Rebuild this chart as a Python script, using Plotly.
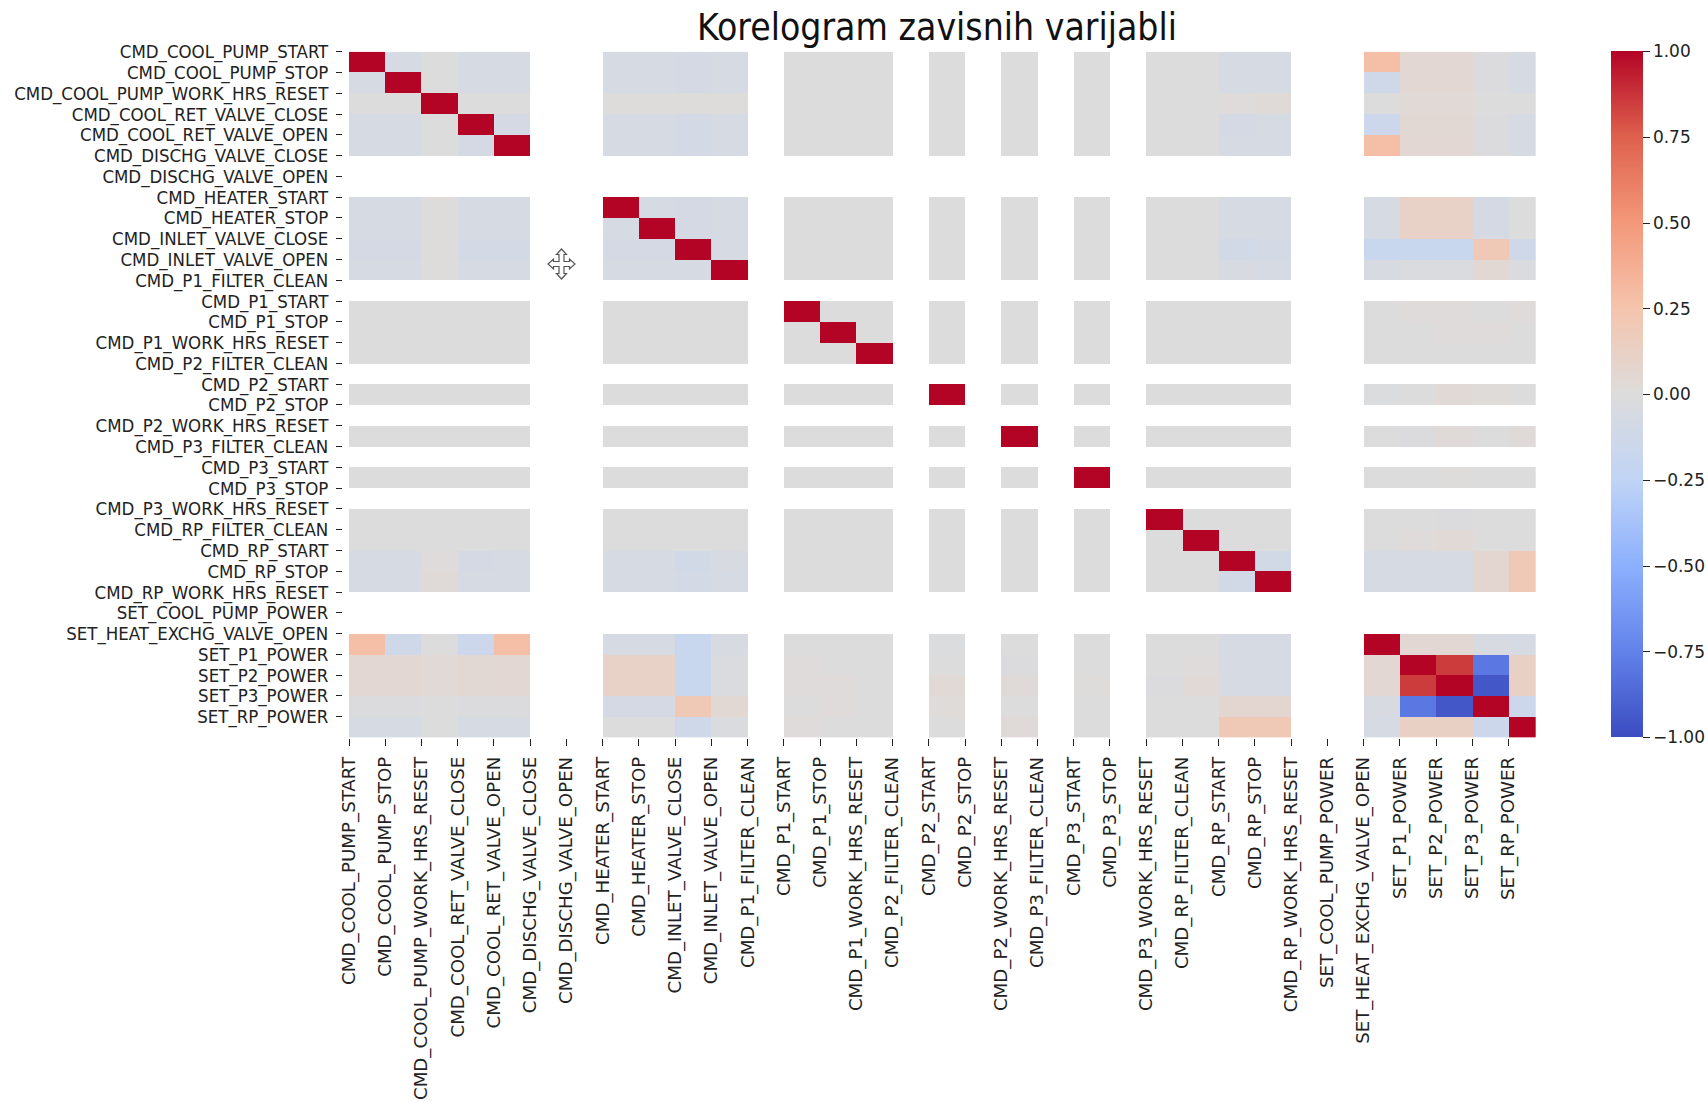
import plotly.graph_objects as go

variables = [
    "CMD_COOL_PUMP_START", "CMD_COOL_PUMP_STOP", "CMD_COOL_PUMP_WORK_HRS_RESET",
    "CMD_COOL_RET_VALVE_CLOSE", "CMD_COOL_RET_VALVE_OPEN", "CMD_DISCHG_VALVE_CLOSE",
    "CMD_DISCHG_VALVE_OPEN", "CMD_HEATER_START", "CMD_HEATER_STOP",
    "CMD_INLET_VALVE_CLOSE", "CMD_INLET_VALVE_OPEN", "CMD_P1_FILTER_CLEAN",
    "CMD_P1_START", "CMD_P1_STOP", "CMD_P1_WORK_HRS_RESET", "CMD_P2_FILTER_CLEAN",
    "CMD_P2_START", "CMD_P2_STOP", "CMD_P2_WORK_HRS_RESET", "CMD_P3_FILTER_CLEAN",
    "CMD_P3_START", "CMD_P3_STOP", "CMD_P3_WORK_HRS_RESET", "CMD_RP_FILTER_CLEAN",
    "CMD_RP_START", "CMD_RP_STOP", "CMD_RP_WORK_HRS_RESET", "SET_COOL_PUMP_POWER",
    "SET_HEAT_EXCHG_VALVE_OPEN", "SET_P1_POWER", "SET_P2_POWER", "SET_P3_POWER",
    "SET_RP_POWER",
]

# Positions (rows and columns) that hold a value; every other cell is empty.
filled = [0, 1, 2, 3, 4, 7, 8, 9, 10, 12, 13, 14, 16, 18, 20, 22, 23, 24, 25, 28, 29, 30, 31, 32]

_ = 0.0
r00 = [1, -.07, -.005, -.07, -.07, -.06, -.06, -.08, -.06, _, _, _, _, _, _, _, _, -.07, -.06, .28, .05, .05, -.02, -.06]
r01 = [-.07, 1, -.005, -.07, -.07, -.06, -.06, -.08, -.06, _, _, _, _, _, _, _, _, -.07, -.06, -.13, .05, .05, -.02, -.06]
r02 = [-.005, -.005, 1, -.005, -.005, .003, .003, .003, .003, _, _, _, _, _, _, _, _, .01, .02, _, .03, .03, _, _]
r03 = [-.07, -.07, -.005, 1, -.08, -.07, -.07, -.09, -.07, _, _, _, _, _, _, _, -.005, -.08, -.07, -.15, .04, .04, -.02, -.06]
r04 = [-.07, -.07, -.005, -.08, 1, -.07, -.07, -.09, -.07, _, _, _, _, _, _, _, -.005, -.07, -.06, .28, .05, .05, -.02, -.06]
r07 = [-.06, -.06, .003, -.07, -.07, 1, -.07, -.08, -.06, _, _, _, _, _, _, _, _, -.07, -.06, -.07, .11, .11, -.08, -.01]
r08 = [-.06, -.06, .003, -.07, -.07, -.07, 1, -.08, -.06, _, _, _, _, _, _, _, _, -.07, -.06, -.07, .11, .11, -.08, -.01]
r09 = [-.08, -.08, .003, -.09, -.09, -.08, -.08, 1, -.07, _, _, _, _, _, _, _, _, -.10, -.09, -.18, -.18, -.18, .20, -.13]
r10 = [-.06, -.06, .003, -.07, -.07, -.06, -.06, -.07, 1, _, _, _, _, _, _, _, _, -.05, -.06, -.05, -.03, -.03, .04, -.03]
r12 = [_, _, _, _, _, _, _, _, _, 1, _, _, _, _, _, _, _, _, _, -.01, .01, .01, -.01, .01]
r13 = [_, _, _, _, _, _, _, _, _, _, 1, _, _, _, _, _, _, _, _, -.01, -.005, .01, .01, -.005]
r14 = [_, _, _, _, _, _, _, _, _, _, _, 1, _, _, _, _, _, _, _, -.01, -.01, -.01, -.005, -.01]
r16 = [_, _, _, _, _, _, _, _, _, _, _, _, 1, _, _, _, _, _, _, -.015, -.01, .03, .015, -.01]
r18 = [_, _, _, _, _, _, _, _, _, _, _, _, _, 1, _, _, _, _, _, -.01, -.02, .02, -.01, .02]
r20 = [_, _, _, _, _, _, _, _, _, _, _, _, _, _, 1, _, _, .002, .002, _, _, .005, _, _]
r22 = [_, _, _, _, _, _, _, _, _, _, _, _, _, _, _, 1, _, _, _, -.01, -.01, -.02, _, _]
r23 = [_, _, _, -.005, -.005, _, _, _, _, _, _, _, _, _, _, _, 1, _, _, _, .01, .03, _, -.005]
r24 = [-.07, -.07, .01, -.08, -.07, -.07, -.07, -.10, -.05, _, _, _, _, _, .002, _, _, 1, -.10, -.07, -.07, -.07, .06, .20]
r25 = [-.06, -.06, .02, -.07, -.06, -.06, -.06, -.09, -.06, _, _, _, _, _, .002, _, _, -.10, 1, -.07, -.07, -.07, .06, .20]
r28 = [.28, -.13, _, -.15, .28, -.07, -.07, -.18, -.05, -.01, -.01, -.01, -.015, -.01, _, -.01, _, -.07, -.07, 1, .05, .05, -.05, -.06]
r29 = [.05, .05, .03, .04, .05, .11, .11, -.18, -.03, .01, -.005, -.01, -.01, -.02, _, -.01, .01, -.07, -.07, .05, 1, .85, -.80, .12]
r30 = [.05, .05, .03, .04, .05, .11, .11, -.18, -.03, .01, .01, -.01, .03, .02, .005, -.02, .03, -.07, -.07, .05, .85, 1, -.95, .12]
r31 = [-.02, -.02, _, -.02, -.02, -.08, -.08, .20, .04, -.01, .01, -.005, .015, -.01, _, _, _, .06, .06, -.05, -.80, -.95, 1, -.15]
r32 = [-.06, -.06, _, -.06, -.06, -.01, -.01, -.13, -.03, .01, -.005, -.01, -.01, .02, _, _, -.005, .20, .20, -.06, .12, .12, -.15, 1]

filled_rows = [r00, r01, r02, r03, r04, r07, r08, r09, r10, r12, r13, r14, r16, r18,
               r20, r22, r23, r24, r25, r28, r29, r30, r31, r32]

colorbar_ticks = [-1, -0.75, -0.5, -0.25, 0, 0.25, 0.5, 0.75, 1]

coolwarm = [
    [0.0, "#3b4cc0"], [0.125, "#6282ea"], [0.25, "#8db0fe"], [0.375, "#c0d4f5"],
    [0.5, "#dddcdc"], [0.625, "#f5c4ad"], [0.75, "#f4987a"], [0.875, "#de614d"],
    [1.0, "#b40426"],
]

n = len(variables)
z = [[None] * n for _ in range(n)]
for row_pos, row_vals in zip(filled, filled_rows):
    for col_pos, v in zip(filled, row_vals):
        z[row_pos][col_pos] = v

W, H = 1708, 1102
LEFT, RIGHT, TOP, BOTTOM = 349.0, 1535.7, 51.7, 737.5
FONT = "DejaVu Sans"
CONDENSED = "DejaVu Sans Condensed, Liberation Sans Narrow, DejaVu Sans"
INK = "#222222"


def cursor_icon(cx, cy):
    """Outline of the four-way move cursor seen in the picture, in paper units."""
    outline = [(0, -15), (5, -9.5), (2.5, -9.5), (2.5, -2.5), (8, -2.5), (8, -5), (13.5, 0), (8, 5),
               (8, 2.5), (2.5, 2.5), (2.5, 9.5), (5, 9.5), (0, 15), (-5, 9.5), (-2.5, 9.5),
               (-2.5, 2.5), (-8, 2.5), (-8, 5), (-13.5, 0), (-8, -5), (-8, -2.5), (-2.5, -2.5),
               (-2.5, -9.5), (-5, -9.5)]

    def pt(dx, dy):
        return f"{(cx + dx) / W:.5f},{1 - (cy + dy) / H:.5f}"
    return "M" + " L".join(pt(dx, dy) for dx, dy in outline) + " Z"


fig = go.Figure(go.Heatmap(
    z=z, x=list(range(n)), y=list(range(n)),
    zmin=-1, zmax=1, colorscale=coolwarm, hoverongaps=False,
    colorbar=dict(
        x=1611 / W, xanchor="left", xpad=0, ypad=0,
        y=1 - BOTTOM / H, yanchor="bottom",
        len=(BOTTOM - TOP) / H, lenmode="fraction",
        thickness=32, thicknessmode="pixels", outlinewidth=0,
        tickmode="array", tickvals=colorbar_ticks, tickformat=".2f",
        tickprefix="\u00a0",
        ticks="outside", ticklen=7, tickwidth=1, tickcolor=INK,
        tickfont=dict(family=FONT, size=17, color=INK),
    ),
))

fig.update_layout(
    width=W, height=H, autosize=False,
    margin=dict(l=0, r=0, t=0, b=0),
    paper_bgcolor="white", plot_bgcolor="white",
    title=dict(
        text="Korelogram zavisnih varijabli", x=937 / W, xanchor="center",
        y=1 - 27 / H, yanchor="middle", yref="container",
        font=dict(family=CONDENSED, size=37, color="#111111"),
    ),
    xaxis=dict(
        domain=[LEFT / W, RIGHT / W], range=[-0.5, 32.25], showgrid=False, zeroline=False,
        tickmode="array", tickvals=[i - 0.5 for i in range(n)], ticktext=variables,
        tickangle=-90, ticks="outside", ticklen=7, tickwidth=1.3, tickcolor=INK,
        tickfont=dict(family=FONT, size=18.2, color=INK), ticklabelstandoff=4,
        automargin=False, anchor="y",
    ),
    yaxis=dict(
        domain=[1 - BOTTOM / H, 1 - TOP / H], range=[32.5, -0.5], showgrid=False, zeroline=False,
        tickmode="array", tickvals=[i - 0.5 for i in range(n)], ticktext=variables,
        ticks="outside", ticklen=6, tickwidth=1.3, tickcolor=INK,
        tickfont=dict(family=CONDENSED, size=18.5, color=INK), ticklabelstandoff=4,
        automargin=False, anchor="free", position=342 / W,
    ),
    shapes=[dict(type="path", xref="paper", yref="paper", path=cursor_icon(561.5, 264),
                 fillcolor="white", line=dict(color="#555555", width=1.2))],
)

fig.write_html("out.html", config={"displayModeBar": False},
               post_script="document.body.style.margin='0';document.body.style.overflow='hidden';")
